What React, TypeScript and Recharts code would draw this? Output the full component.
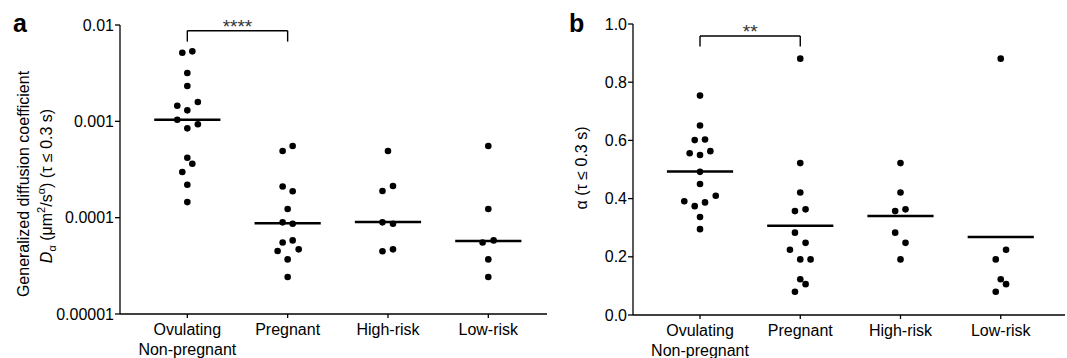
import React from 'react';
import {
  ScatterChart,
  Scatter,
  XAxis,
  YAxis,
  ReferenceLine
} from 'recharts';

// categories (shared by both panels)
const groups = ['Ovulating\nNon-pregnant', 'Pregnant', 'High-risk', 'Low-risk'];
const groupPos = [1, 2, 3, 4];

// panel a: generalized diffusion coefficient (log scale)
const dOvulating = [0.00515, 0.00533, 0.00318, 0.00233, 0.00159, 0.00145, 0.0013, 0.00104, 0.000931, 0.000846, 0.000419, 0.000363, 0.000298, 0.00022, 0.000145];
const dOvulatingJit = [-0.05, 0.05, 0, 0, 0.105, -0.1, 0, -0.1, 0.105, 0, 0, 0.05, -0.05, 0, 0];
const dPregnant = [0.000492, 0.000554, 0.000211, 0.000188, 0.000123, 0.0000894, 0.0000865, 0.0000553, 0.0000581, 0.000045, 0.0000469, 0.0000369, 0.0000242];
const dPregnantJit = [-0.05, 0.05, -0.05, 0.05, 0, -0.05, 0.05, -0.05, 0.05, -0.1, 0.11, 0, 0];
const dHighRisk = [0.000492, 0.000189, 0.000213, 0.0000894, 0.0000865, 0.0000448, 0.0000469];
const dHighRiskJit = [0, -0.055, 0.05, -0.055, 0.05, -0.055, 0.05];
const dLowRisk = [0.000554, 0.000123, 0.0000553, 0.0000581, 0.0000369, 0.0000242];
const dLowRiskJit = [0, 0, -0.057, 0.053, 0, 0];
const dMedians = [0.00104, 0.0000876, 0.00009, 0.0000571];
const dTicks = [0.00001, 0.0001, 0.001, 0.01];
const dTickLabels = ['0.00001', '0.0001', '0.001', '0.01'];
const dBracket = { low: 0.00672, high: 0.00873, stars: '****' };

// panel b: alpha exponent
const aOvulating = [0.754, 0.651, 0.601, 0.603, 0.556, 0.55, 0.563, 0.492, 0.45, 0.391, 0.374, 0.387, 0.41, 0.337, 0.295];
const aOvulatingJit = [0, 0, -0.053, 0.05, -0.103, 0, 0.103, 0, 0, -0.157, -0.053, 0.05, 0.157, 0, 0];
const aPregnant = [0.881, 0.522, 0.421, 0.357, 0.363, 0.283, 0.248, 0.224, 0.191, 0.191, 0.123, 0.106, 0.08];
const aPregnantJit = [0, 0, 0, -0.053, 0.053, -0.053, 0.053, -0.103, 0, 0.103, 0, 0.053, -0.053];
const aHighRisk = [0.522, 0.421, 0.357, 0.363, 0.283, 0.248, 0.191];
const aHighRiskJit = [0, 0, -0.053, 0.05, -0.053, 0.05, 0];
const aLowRisk = [0.881, 0.224, 0.191, 0.123, 0.106, 0.08];
const aLowRiskJit = [0, 0.053, -0.05, 0, 0.053, -0.05];
const aMedians = [0.493, 0.307, 0.34, 0.268];
const aTicks = [0, 0.2, 0.4, 0.6, 0.8, 1.0];
const aTickLabels = ['0.0', '0.2', '0.4', '0.6', '0.8', '1.0'];
const aBracket = { low: 0.923, high: 0.959, stars: '**' };

const FONT = '"Liberation Sans", Arial, sans-serif';
const HALF = 0.33; // half width of median bar, in category units

function toPoints(sets: number[][], jits: number[][]) {
  const out: { x: number; y: number }[] = [];
  sets.forEach((vals, gi) => {
    vals.forEach((v, i) => out.push({ x: groupPos[gi] + jits[gi][i], y: v }));
  });
  return out;
}

const dPoints = toPoints(
  [dOvulating, dPregnant, dHighRisk, dLowRisk],
  [dOvulatingJit, dPregnantJit, dHighRiskJit, dLowRiskJit]
);
const aPoints = toPoints(
  [aOvulating, aPregnant, aHighRisk, aLowRisk],
  [aOvulatingJit, aPregnantJit, aHighRiskJit, aLowRiskJit]
);

const Dot = (p: any) => <circle cx={p.cx} cy={p.cy} r={3.3} fill="#000" />;

const GroupTick = (p: any) => {
  const idx = groupPos.indexOf(p.payload.value);
  const lines = (groups[idx] || '').split('\n');
  return (
    <text x={p.x} y={p.y} textAnchor="middle" fontSize={16} fill="#000" fontFamily={FONT}>
      {lines.map((l, i) => (
        <tspan key={i} x={p.x} dy={i === 0 ? 15 : 20}>{l}</tspan>
      ))}
    </text>
  );
};

const axisLine = { stroke: '#000', strokeWidth: 1.3 };

interface PanelProps {
  width: number;
  yWidth: number;
  top: number;
  right: number;
  xHeight: number;
  xDomain: [number, number];
  points: { x: number; y: number }[];
  medians: number[];
  bracket: { low: number; high: number; stars: string };
  log?: boolean;
  yDomain: [number, number];
  yTicks: number[];
  yLabels: string[];
}

function Panel(props: PanelProps) {
  const { width, yWidth, top, right, xHeight, xDomain, points, medians, bracket, log, yDomain, yTicks, yLabels } = props;
  return (
    <ScatterChart width={width} height={358} margin={{ top, right, bottom: 0, left: 0 }}>
      <XAxis
        type="number"
        dataKey="x"
        domain={xDomain}
        allowDataOverflow
        ticks={groupPos}
        interval={0}
        height={xHeight}
        axisLine={axisLine}
        tickLine={axisLine}
        tickSize={4}
        tick={<GroupTick />}
      />
      <YAxis
        type="number"
        dataKey="y"
        scale={log ? 'log' : 'linear'}
        domain={yDomain}
        allowDataOverflow
        ticks={yTicks}
        interval={0}
        width={yWidth}
        axisLine={axisLine}
        tickLine={axisLine}
        tickSize={5}
        tickMargin={1}
        tick={{ fill: '#000', fontSize: 16, fontFamily: FONT }}
        tickFormatter={(v: number) => yLabels[yTicks.indexOf(v)] ?? String(v)}
      />
      {medians.map((m, i) => (
        <ReferenceLine
          key={i}
          segment={[{ x: groupPos[i] - HALF, y: m }, { x: groupPos[i] + HALF, y: m }]}
          stroke="#000"
          strokeWidth={2.5}
        />
      ))}
      <ReferenceLine
        segment={[{ x: groupPos[0], y: bracket.low }, { x: groupPos[0], y: bracket.high }]}
        stroke="#000"
        strokeWidth={1.4}
      />
      <ReferenceLine
        segment={[{ x: groupPos[1], y: bracket.low }, { x: groupPos[1], y: bracket.high }]}
        stroke="#000"
        strokeWidth={1.4}
      />
      <ReferenceLine
        segment={[{ x: groupPos[0], y: bracket.high }, { x: groupPos[1], y: bracket.high }]}
        stroke="#000"
        strokeWidth={1.4}
        label={{ value: bracket.stars, position: 'top', offset: -2, fill: '#333', fontSize: 19, fontFamily: FONT }}
      />
      <Scatter data={points} shape={<Dot />} isAnimationActive={false} />
    </ScatterChart>
  );
}

export default function App() {
  return (
    <div style={{ position: 'absolute', left: 0, top: 0, width: 1067, height: 358, fontFamily: FONT, background: '#fff' }}>
      <div style={{ position: 'absolute', left: 0, top: 0 }}>
        <Panel
          width={560}
          yWidth={120}
          top={25}
          right={13}
          xHeight={44}
          xDomain={[0.329, 4.585]}
          points={dPoints}
          medians={dMedians}
          bracket={dBracket}
          log
          yDomain={[0.00001, 0.01]}
          yTicks={dTicks}
          yLabels={dTickLabels}
        />
      </div>
      <div style={{ position: 'absolute', left: 540, top: 0 }}>
        <Panel
          width={527}
          yWidth={93}
          top={24}
          right={2}
          xHeight={43}
          xDomain={[0.3315, 4.641]}
          points={aPoints}
          medians={aMedians}
          bracket={aBracket}
          yDomain={[0, 1]}
          yTicks={aTicks}
          yLabels={aTickLabels}
        />
      </div>
      <svg
        width={1067}
        height={358}
        style={{ position: 'absolute', left: 0, top: 0, pointerEvents: 'none' }}
        fontFamily={FONT}
      >
        <text x={13} y={32} fontSize={25} fontWeight="bold" fill="#000">a</text>
        <text x={569} y={32} fontSize={25} fontWeight="bold" fill="#000">b</text>
        <text transform="translate(29,184) rotate(-90)" textAnchor="middle" fontSize={16} fill="#000">
          Generalized diffusion coefficient
        </text>
        <text transform="translate(52,186) rotate(-90)" textAnchor="middle" fontSize={16} fill="#000">
          <tspan fontStyle="italic">D</tspan>
          <tspan fontSize={11} dy={4}>α</tspan>
          <tspan dy={-4}> (μm</tspan>
          <tspan fontSize={11} dy={-7}>2</tspan>
          <tspan dy={7}>/s</tspan>
          <tspan fontSize={11} dy={-7}>α</tspan>
          <tspan dy={7}>) (τ ≤ 0.3 s)</tspan>
        </text>
        <text transform="translate(587,168) rotate(-90)" textAnchor="middle" fontSize={16} fill="#000">
          α (τ ≤ 0.3 s)
        </text>
      </svg>
    </div>
  );
}
